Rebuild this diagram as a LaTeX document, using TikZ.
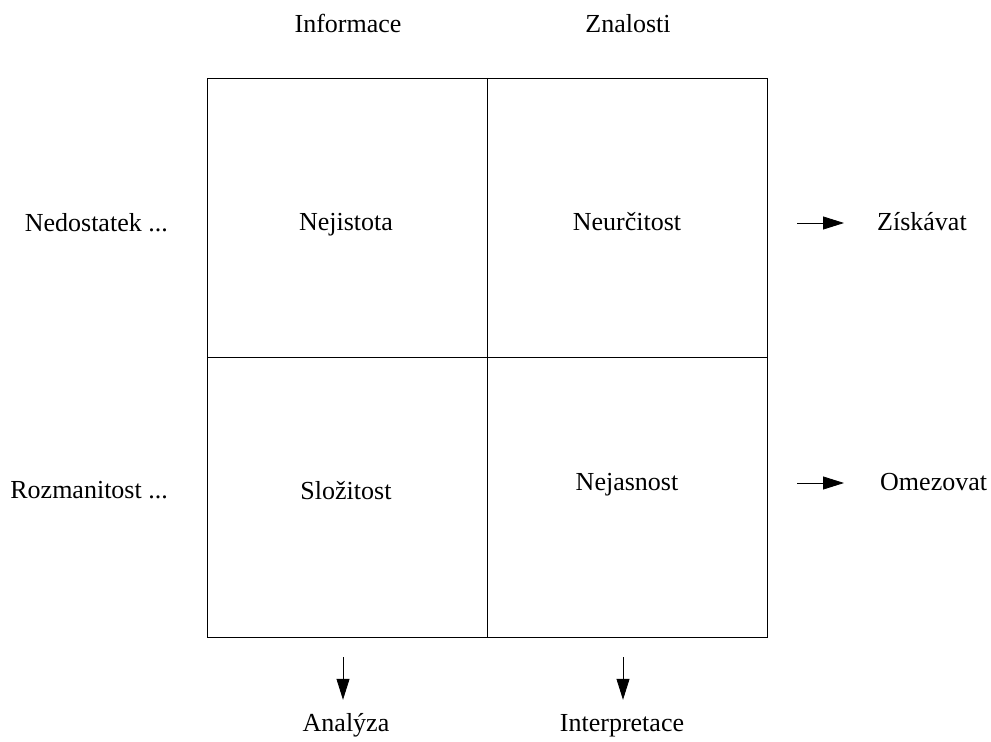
\documentclass[tikz,border=0pt]{standalone}
\usepackage{fontspec}
\setmainfont{Liberation Serif}
\usepackage{tikz}
\usetikzlibrary{arrows.meta}

\tikzset{
  txt/.style={inner sep=0pt,anchor=base,text height=19bp,text depth=6bp,
    font=\fontsize{26bp}{30bp}\selectfont},
  pfeil/.style={-{Triangle[length=21bp,width=13bp]},line width=0.8bp}
}

\begin{document}
\begin{tikzpicture}[x=1bp,y=-1bp]
			\useasboundingbox (0,0) rectangle (991,742);
			% mrizka
			\draw[line width=0.8bp] (207,78) rectangle (767,637);
			\draw[line width=0.8bp] (487,78) -- (487,637);
			\draw[line width=0.8bp] (207,357) -- (767,357);
			% zahlavi
			\node[txt] (informace) at (348,33) {Informace};
			\node[txt] (znalosti) at (628,33) {Znalosti};
			\node[txt,anchor=base east] (nedostatek) at (168,231) {Nedostatek ...};
			\node[txt,anchor=base east] (rozmanitost) at (168,498) {Rozmanitost ...};
			% bunky
			\node[txt] (nejistota) at (346,230) {Nejistota};
			\node[txt] (neurcitost) at (627,230) {Neurčitost};
			\node[txt] (slozitost) at (346,499) {Složitost};
			\node[txt] (nejasnost) at (627,490) {Nejasnost};
			% dusledky
			\node[txt,anchor=base west] (ziskavat) at (877,230) {Získávat};
			\node[txt,anchor=base west] (omezovat) at (880,490) {Omezovat};
			\node[txt] (analyza) at (346,731) {Analýza};
			\node[txt] (interpretace) at (622,731) {Interpretace};
			\coordinate (z1) at (797,223);
			\coordinate (z2) at (797,483);
			\coordinate (z3) at (343,657);
			\coordinate (z4) at (623,657);
			\draw[pfeil,shorten >=33bp] (z1) -- (z1 -| ziskavat.west);
			\draw[pfeil,shorten >=36bp] (z2) -- (z2 -| omezovat.west);
			\draw[pfeil,shorten >=12bp] (z3) -- (z3 |- analyza.north);
			\draw[pfeil,shorten >=12bp] (z4) -- (z4 |- interpretace.north);
		\end{tikzpicture}
\end{document}
